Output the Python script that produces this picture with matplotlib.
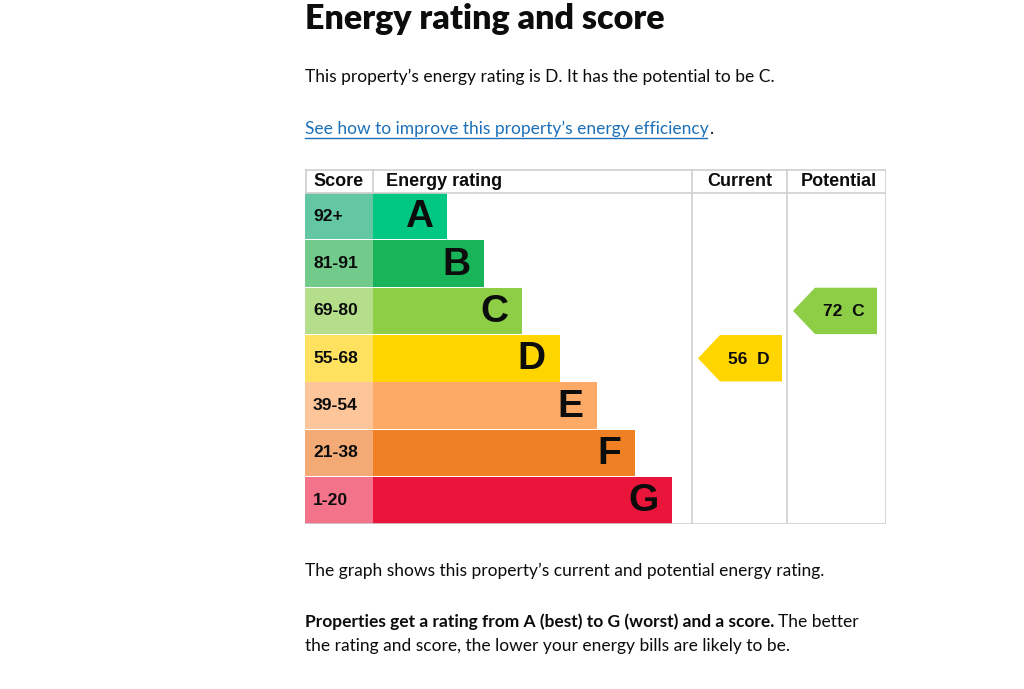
import matplotlib
matplotlib.use("Agg")
import matplotlib.pyplot as plt
from matplotlib.patches import Polygon

# ---- data ----
ratings = ["A", "B", "C", "D", "E", "F", "G"]
score_bands = ["92+", "81-91", "69-80", "55-68", "39-54", "21-38", "1-20"]
band_min = [92, 81, 69, 55, 39, 21, 1]
bar_units = [2, 3, 4, 5, 6, 7, 8]
bar_colors = ["#00c781", "#19b459", "#8dce46", "#ffd500", "#fcaa65", "#ef8023", "#e9153b"]
score_colors = ["#64c7a3", "#73cb8b", "#b5de8a", "#ffe160", "#fdc59a", "#f3aa74", "#f2738a"]
current_score = 56
potential_score = 72
headers = ["Score", "Energy rating", "Current", "Potential"]


def band_index(score):
    for i, m in enumerate(band_min):
        if score >= m:
            return i
    return len(band_min) - 1


W, H = 1024, 689
fig = plt.figure(figsize=(W / 100, H / 100), dpi=100)
fig.patch.set_facecolor("white")

# text layer in pixel coordinates
tx = fig.add_axes([0, 0, 1, 1])
tx.set_xlim(0, W)
tx.set_ylim(H, 0)
tx.axis("off")
renderer = fig.canvas.get_renderer()


def right_edge(t):
    bb = t.get_window_extent(renderer=renderer)
    return bb.x1


dark = "#0b0c0c"
fs = 12.5
tx.text(305, 19, "Energy rating and score", fontsize=24.5, fontweight="heavy",
        family="Lato", color=dark, va="center", ha="left")
tx.text(305, 77, "This property\u2019s energy rating is D. It has the potential to be C.",
        fontsize=fs, family="Lato", color=dark, va="center", ha="left")
link = tx.text(305, 129, "See how to improve this property\u2019s energy efficiency",
               fontsize=fs, family="Lato", color="#1d70b8", va="center", ha="left")
lx = right_edge(link)
tx.text(lx, 129, ".", fontsize=fs, family="Lato", color=dark, va="center", ha="left")
tx.plot([305, lx - 2], [138, 138], color="#1d70b8", lw=1)
tx.text(305, 571, "The graph shows this property\u2019s current and potential energy rating.",
        fontsize=fs, family="Lato", color=dark, va="center", ha="left")
t1 = tx.text(305, 622, "Properties get a rating from A (best) to G (worst) and a score.",
             fontsize=fs, family="Lato", fontweight="bold", color=dark, va="center", ha="left")
bx = right_edge(t1)
tx.text(bx + 4, 622, "The better", fontsize=fs, family="Lato", color=dark, va="center", ha="left")
tx.text(305, 646, "the rating and score, the lower your energy bills are likely to be.",
        fontsize=fs, family="Lato", color=dark, va="center", ha="left")

# ---- chart table ----
x0, x1 = 305, 886
y0, y1 = 169, 524
ax = fig.add_axes([x0 / W, 1 - y1 / H, (x1 - x0) / W, (y1 - y0) / H])
tw, th = x1 - x0, y1 - y0
ax.set_xlim(0, tw)
ax.set_ylim(th, 0)
ax.axis("off")

header_h = 23.5
row_h = (th - header_h) / len(ratings)
score_w = 68
unit = 37.6
cur_x, pot_x = 387, 482
grid = "#cfcfcf"

centers = [header_h + (i + 0.5) * row_h for i in range(len(ratings))]
lengths = [u * unit - 1.5 for u in bar_units]

ax.barh(centers, [score_w] * len(ratings), left=0, height=row_h - 0.8,
        color=score_colors, edgecolor="none")
ax.barh(centers, lengths, left=score_w, height=row_h - 0.8,
        color=bar_colors, edgecolor="none")

for i, (c, r, s) in enumerate(zip(centers, ratings, score_bands)):
    ax.text(8, c, s, fontsize=12.6, fontweight="bold", family="Liberation Sans",
            color=dark, va="center", ha="left")
    ax.text(score_w + lengths[i] - 14, c + 1, r, fontsize=28, fontweight="bold",
            family="Liberation Sans", color=dark, va="center", ha="right")

# header
hdr_x = [8, score_w + 13, cur_x + 48, pot_x + 52]
hdr_ha = ["left", "left", "center", "center"]
for hx, h, ha in zip(hdr_x, headers, hdr_ha):
    ax.text(hx, header_h / 2 + 1, h, fontsize=13, fontweight="bold",
            family="Liberation Sans", color=dark, va="center", ha=ha)

# grid lines
ax.plot([0, tw], [0.5, 0.5], color=grid, lw=1.2)
ax.plot([0, tw], [header_h, header_h], color=grid, lw=1.2)
ax.plot([0, tw], [th - 0.5, th - 0.5], color=grid, lw=1.2)
ax.plot([0.5, 0.5], [0, header_h], color=grid, lw=1.2)
ax.plot([score_w, score_w], [0, header_h], color=grid, lw=1.2)
for xv in [cur_x, pot_x, tw - 0.5]:
    ax.plot([xv, xv], [0, th], color=grid, lw=1.2)


def arrow(col_x, score):
    i = band_index(score)
    c = centers[i]
    top, bot = c - row_h / 2 + 0.5, c + row_h / 2 - 0.5
    tip = col_x + 6
    body = col_x + 28
    right = col_x + 90
    ax.add_patch(Polygon([(tip, c), (body, top), (right, top), (right, bot), (body, bot)],
                         closed=True, facecolor=bar_colors[i], edgecolor="none"))
    ax.text((body + right) / 2 - 2, c + 1, f"{score}  {ratings[i]}", fontsize=12.5,
            fontweight="bold", family="Liberation Sans", color=dark,
            va="center", ha="center")


arrow(cur_x, current_score)
arrow(pot_x, potential_score)

fig.savefig("out.png", dpi=100, facecolor="white")
